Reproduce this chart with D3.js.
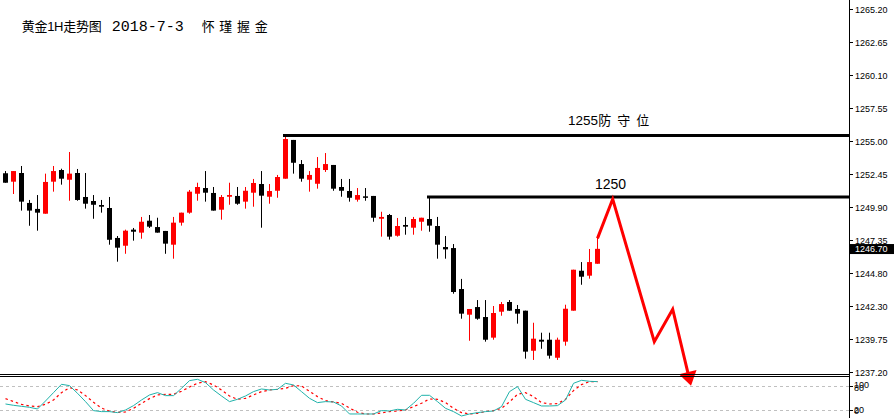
<!DOCTYPE html>
<html><head><meta charset="utf-8">
<script src="https://cdn.jsdelivr.net/npm/d3@7"></script>
<style>body{margin:0;background:#fff}svg{display:block}</style>
</head><body><svg id="c" width="894" height="418"></svg>
<script>
// ---- data ----
const opens=[1252.53,1251.88,1252.55,1250.24,1249.78,1249.41,1251.88,1252.78,1252.03,1252.55,1250.70,1250.39,1250.08,1249.85,1247.54,1246.94,1248.18,1247.95,1248.87,1248.38,1248.08,1247.02,1248.72,1249.49,1250.95,1251.39,1251.01,1249.72,1250.72,1250.78,1250.34,1251.03,1251.70,1250.72,1251.18,1252.11,1255.10,1253.24,1252.03,1251.72,1252.78,1253.17,1251.47,1251.16,1250.49,1250.75,1250.78,1249.02,1249.31,1247.71,1248.54,1248.33,1248.79,1249.00,1248.46,1246.84,1246.76,1243.60,1241.62,1242.21,1241.44,1239.85,1241.85,1242.60,1242.06,1241.93,1238.84,1239.69,1239.69,1238.30,1239.54,1241.93,1245.01,1244.63,1245.55];
const highs=[1252.70,1252.70,1253.09,1250.47,1250.85,1252.50,1253.09,1252.88,1254.17,1252.86,1252.55,1250.85,1250.47,1250.70,1247.69,1248.18,1248.31,1249.16,1249.31,1249.10,1248.08,1249.16,1249.49,1251.24,1251.80,1252.70,1251.47,1250.85,1251.80,1251.47,1251.47,1252.09,1252.70,1251.70,1252.40,1255.43,1255.10,1253.55,1252.70,1253.78,1254.09,1253.17,1252.09,1252.09,1251.39,1251.39,1250.78,1249.56,1249.39,1249.08,1249.16,1249.16,1249.10,1250.70,1249.16,1247.69,1247.07,1244.38,1242.06,1242.75,1242.75,1242.29,1242.60,1242.75,1242.37,1241.93,1241.00,1240.23,1240.23,1239.85,1242.39,1245.09,1245.68,1246.69,1247.54];
const lows=[1251.80,1250.93,1249.65,1248.48,1248.10,1249.41,1251.11,1251.65,1250.41,1250.41,1249.80,1249.02,1249.49,1247.02,1245.71,1246.32,1247.33,1247.48,1248.31,1247.95,1246.32,1245.94,1248.49,1249.41,1250.41,1250.34,1249.65,1248.95,1250.10,1250.10,1249.80,1249.95,1248.33,1250.18,1250.64,1252.11,1252.50,1251.88,1251.11,1251.34,1252.63,1251.18,1250.72,1250.34,1250.34,1250.41,1248.79,1247.64,1247.41,1247.64,1247.79,1247.79,1248.10,1248.02,1245.94,1245.94,1243.24,1241.31,1239.61,1241.23,1239.54,1239.69,1241.54,1241.93,1240.93,1238.23,1238.13,1238.99,1238.23,1238.13,1239.23,1241.93,1243.93,1244.40,1245.55];
const closes=[1251.80,1252.70,1250.34,1249.65,1249.49,1251.86,1252.70,1252.11,1252.50,1250.47,1250.18,1250.10,1249.95,1247.40,1246.79,1248.10,1248.02,1248.79,1248.41,1247.95,1247.10,1248.72,1249.49,1251.11,1251.47,1251.03,1249.65,1250.70,1250.85,1250.18,1251.18,1251.78,1250.80,1251.16,1252.24,1255.17,1253.34,1252.11,1252.40,1252.94,1253.24,1251.34,1251.18,1250.64,1250.85,1250.64,1249.10,1249.16,1247.64,1248.46,1248.41,1249.00,1249.10,1248.49,1247.02,1246.66,1243.37,1241.70,1242.06,1241.31,1239.69,1241.75,1242.44,1241.93,1241.70,1238.77,1239.77,1239.54,1238.46,1239.69,1242.08,1245.09,1244.55,1245.68,1246.70];

const stochK=[35.8,32.5,30,27.5,23.3,43.3,64.2,85,81.7,62.5,41.7,19.2,16.7,16.7,14.2,20.8,31.7,45.8,58.3,64.2,56.7,56.7,75,94.2,97.5,89.2,70.8,55.8,41.7,47.5,55.8,66.7,73.3,70.8,72.5,87.5,83.3,66.7,50,39.2,41.7,40.8,30.8,10.8,10.8,10.8,10.8,19.2,18.3,22.5,20.8,37.5,57.5,57.5,41.7,25,16.7,5.8,10.8,14.2,16.7,18.3,29.2,66.7,79.2,47.5,39.2,30.8,30.8,31.7,45.8,87.5,95,92.5,91.7];
const stochD=[49.2,41.7,35,30.8,29.2,35,45.8,64.2,76.7,70.8,56.7,40,25.8,17.5,15,15.8,25,37.5,49.2,58.3,60,60,67.5,78.3,87.5,91.7,83.3,70.8,55.8,47.5,50,58.3,66.7,70.8,72.5,75,81.7,80.8,67.5,54.2,44.2,40.8,37.5,25.8,15,10.8,10.8,13.3,16.7,18.3,20.8,29.2,37.5,48.3,47.5,39.2,25,14.2,10.8,12.5,16.7,19.2,25,40.8,60,64.2,54.2,39.2,35.8,36.7,47.5,69.2,84.2,91.7,91.7];

const priceTicks=[1265.20,1262.65,1260.10,1257.55,1255.00,1252.45,1249.90,1247.35,1244.80,1242.30,1239.75,1237.20];
const stochLevels=[80,20];
const stochLabels=[["100",100],["80",80],["20",20],["0",0]];

const levelPrices=[1255.45,1250.70];
const levelStart=[35,53];
const levelTexts=["1255防守位","1250"];

// projected path: [bar index, price]
const pathIdx=[74,75.9,81.1,83.4,85.69];
const pathPrice=[1247.51,1250.54,1239.54,1242.04,1236.14];

const titleParts=["黄金1H走势图","2018-7-3","怀瑾握金"];
const lastPrice=1246.70;

// ---- layout ----
const W=894,H=418,axisX=849;
const svg=d3.select("#c");
const x=d3.scaleLinear().domain([-0.6875,105.4375]).range([0,axisX]);
const y=d3.scaleLinear().domain([1237.20,1265.20]).range([372,9]);
const ys=d3.scaleLinear().domain([0,100]).range([418.3,378.3]);

svg.append("rect").attr("width",W).attr("height",H).attr("fill","#fff");

const bars=d3.range(opens.length).map(i=>({i,o:opens[i],h:highs[i],l:lows[i],c:closes[i]}));

// candles
const g=svg.append("g");
bars.forEach(b=>{
  const col=b.c>=b.o?"#ff0000":"#000000";
  const cx=x(b.i);
  g.append("line").attr("x1",cx).attr("x2",cx).attr("y1",y(b.h)).attr("y2",y(b.l))
   .attr("stroke",col).attr("stroke-width",1);
  const top=y(Math.max(b.o,b.c)),bot=y(Math.min(b.o,b.c));
  g.append("rect").attr("x",cx-2.5).attr("width",5).attr("y",top).attr("height",Math.max(1.5,bot-top))
   .attr("fill",col);
});

// level lines
levelPrices.forEach((p,k)=>{
  svg.append("line").attr("x1",x(levelStart[k])-2.5).attr("x2",axisX).attr("y1",y(p)).attr("y2",y(p))
    .attr("stroke","#000").attr("stroke-width",3);
});
// level labels
svg.append("text").attr("x",568).attr("y",y(levelPrices[0])-10)
  .attr("font-family","Liberation Sans, Arial, sans-serif").attr("font-size",13.5).text(levelTexts[0].slice(0,4));
svg.append("text").attr("x",598.3).attr("y",y(levelPrices[0])-10)
  .attr("font-family","Noto Sans CJK SC, sans-serif").attr("font-size",13)
  .attr("textLength",51).attr("lengthAdjust","spacing").text(levelTexts[0].slice(4));
svg.append("text").attr("x",595).attr("y",y(levelPrices[1])-8)
  .attr("font-family","Liberation Sans, Arial, sans-serif").attr("font-size",14).text(levelTexts[1]);

// projected zigzag with arrow
const pts=pathIdx.map((v,k)=>[x(v),y(pathPrice[k])]);
const tip=pts[pts.length-1],prev=pts[pts.length-2];
const dx=tip[0]-prev[0],dy=tip[1]-prev[1],len=Math.hypot(dx,dy);
const ux=dx/len,uy=dy/len,aL=14,aW=9;
const base=[tip[0]-aL*ux,tip[1]-aL*uy];
const linePts=pts.slice(0,-1).concat([[tip[0]-(aL-2)*ux,tip[1]-(aL-2)*uy]]);
svg.append("path").attr("d",d3.line()(linePts)).attr("fill","none").attr("stroke","#ff0000")
  .attr("stroke-width",3).attr("stroke-linejoin","miter");
svg.append("path").attr("d",d3.line()([[base[0]-aW*uy,base[1]+aW*ux],tip,[base[0]+aW*uy,base[1]-aW*ux]])+"Z")
  .attr("fill","#ff0000");

// pane separator
[374.5,376.5].forEach(v=>svg.append("line").attr("x1",0).attr("x2",axisX+1).attr("y1",v).attr("y2",v)
  .attr("stroke","#000").attr("stroke-width",1));

// stoch levels
stochLevels.forEach(v=>svg.append("line").attr("x1",0).attr("x2",axisX).attr("y1",Math.round(ys(v))+0.5).attr("y2",Math.round(ys(v))+0.5)
  .attr("stroke","#c0c0c0").attr("stroke-width",1).attr("stroke-dasharray","3,3"));

// stoch lines
const sl=d3.line().x((d,i)=>x(i)).y(d=>ys(d));
svg.append("path").attr("d",sl(stochD)).attr("fill","none").attr("stroke","#ff0000")
  .attr("stroke-width",1.2).attr("stroke-dasharray","2.5,3");
svg.append("path").attr("d",sl(stochK)).attr("fill","none").attr("stroke","#20b2aa").attr("stroke-width",1);

// right axis
svg.append("line").attr("x1",axisX+0.5).attr("x2",axisX+0.5).attr("y1",0).attr("y2",H).attr("stroke","#000");
const ax=svg.append("g").attr("font-family","Liberation Sans, Arial, sans-serif").attr("font-size",9);
priceTicks.forEach(t=>{
  const yy=Math.round(y(t))+0.5;
  ax.append("line").attr("x1",axisX).attr("x2",axisX+4).attr("y1",yy).attr("y2",yy).attr("stroke","#000");
  ax.append("text").attr("x",855).attr("y",yy).attr("dy","0.35em").text(t.toFixed(2));
});
// last price box
const ly=y(lastPrice);
svg.append("rect").attr("x",axisX+1).attr("y",ly-4.8).attr("width",W-axisX-1).attr("height",10).attr("fill","#000");
svg.append("line").attr("x1",axisX-3).attr("x2",axisX).attr("y1",ly).attr("y2",ly).attr("stroke","#fff");
svg.append("text").attr("x",855).attr("y",ly).attr("dy","0.35em").attr("fill","#fff")
  .attr("font-family","Liberation Sans, Arial, sans-serif").attr("font-size",9).text(lastPrice.toFixed(2));
// stoch labels (overlapping pairs, as in the reference)
const offs={"100":-1,"80":1.5,"20":0,"0":1};
stochLabels.forEach(([t,v])=>{
  const yy=(v>=80?ys(80):ys(20))+offs[t];
  ax.append("text").attr("x",854).attr("y",yy).attr("dy","0.35em").text(t);
});
stochLevels.forEach(v=>ax.append("line").attr("x1",axisX).attr("x2",axisX+4).attr("y1",Math.round(ys(v))+0.5).attr("y2",Math.round(ys(v))+0.5).attr("stroke","#000"));

// title
const tf="Liberation Sans, Noto Sans CJK SC, sans-serif";
svg.append("text").attr("x",21.7).attr("y",31).attr("font-family",tf).attr("font-size",13)
  .attr("textLength",80).attr("lengthAdjust","spacing").text(titleParts[0]);
svg.append("text").attr("x",111.7).attr("y",31).attr("font-family","Liberation Mono, DejaVu Sans Mono, monospace").attr("font-size",15)
  .text(titleParts[1]);
svg.append("text").attr("x",201.7).attr("y",31).attr("font-family",tf).attr("font-size",13)
  .attr("textLength",66).attr("lengthAdjust","spacing").text(titleParts[2]);
</script></body></html>
